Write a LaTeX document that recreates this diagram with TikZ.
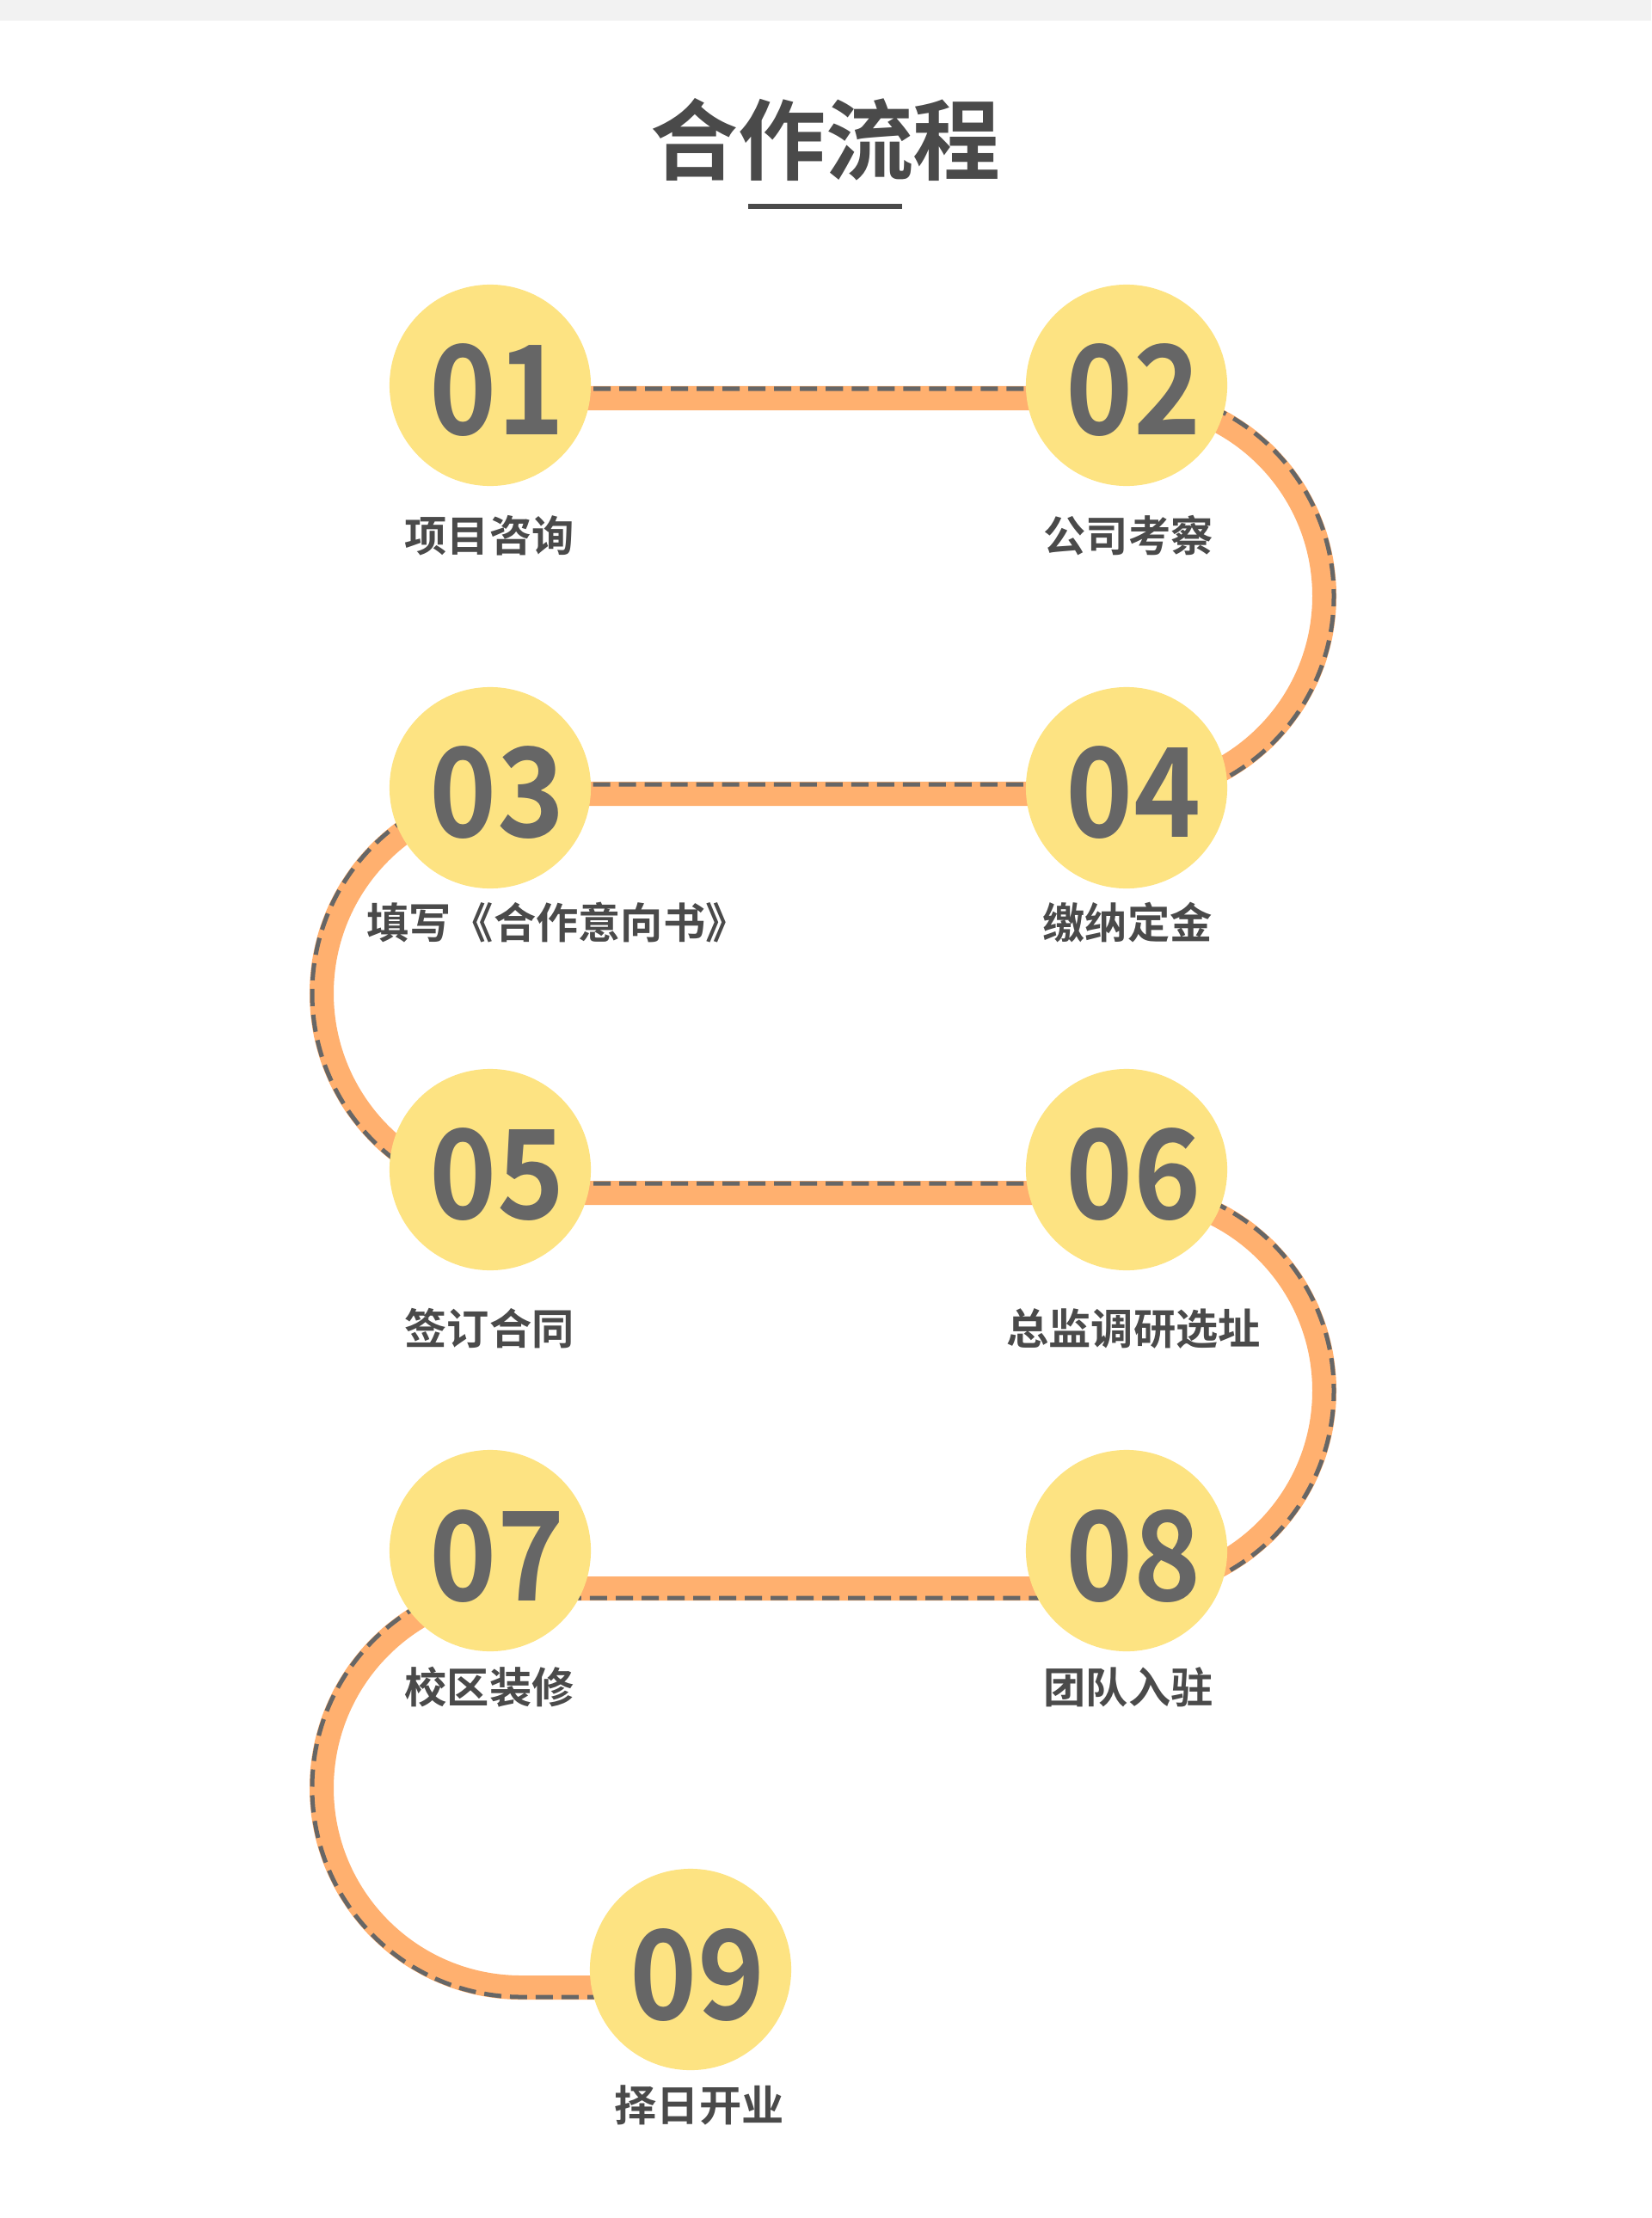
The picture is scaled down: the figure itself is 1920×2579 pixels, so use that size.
\documentclass[tikz,border=0pt]{standalone}
\usepackage{fontspec}
\newfontfamily\hei{Noto Sans CJK SC}[BoldFont={Noto Sans CJK SC Bold}]
\newfontfamily\digitfont{Noto Sans CJK SC Bold}[FakeStretch=0.92]
\usetikzlibrary{calc}
\definecolor{roadorange}{HTML}{FFB06F}
\definecolor{stopyellow}{HTML}{FDE382}
\definecolor{dashgray}{HTML}{666666}
\definecolor{inkgray}{HTML}{4A4A4A}
\definecolor{topgray}{HTML}{F2F2F2}

\begin{document}
\begin{tikzpicture}[x=0.01cm,y=-0.01cm,
  road/.style={roadorange,line width=0.28cm},
  seam/.style={dashgray,line width=0.05cm,dash pattern=on 0.2cm off 0.1cm},
  stop/.style={circle,fill=stopyellow,minimum size=2.34cm,inner sep=0pt},
  digits/.style={inner sep=0pt,text=dashgray,font=\digitfont\fontsize{41}{41}\selectfont},
  caption/.style={inner sep=0pt,text=inkgray,font=\hei\bfseries\fontsize{14}{14}\selectfont}]
\useasboundingbox (0,0) rectangle (1920,2579);
\fill[white] (0,0) rectangle (1920,2579);
\fill[topgray] (0,0) rectangle (1920,24);

\node[inner sep=0pt,text=inkgray,font=\hei\bfseries\fontsize{29}{29}\selectfont] (title) at (960,162) {合作流程};
\draw[inkgray,line width=0.06cm] (870,240) -- (1049,240);

\coordinate (p01) at (570,448);
\coordinate (p02) at (1310,448);
\coordinate (p03) at (570,916);
\coordinate (p04) at (1310,916);
\coordinate (p05) at (570,1360);
\coordinate (p06) at (1310,1360);
\coordinate (p07) at (570,1803);
\coordinate (p08) at (1310,1803);
\coordinate (p09) at (803,2290);

\draw[road] ($(p01)+(0,15)$) -- ($(p02)+(0,15)$) arc[start angle=-90,end angle=90,radius=230]
  -- ($(p03)+(36,7)$) arc[start angle=270,end angle=90,radius=232]
  -- ($(p06)+(0,27)$) arc[start angle=-90,end angle=90,radius=230]
  -- ($(p07)+(36,44)$) arc[start angle=270,end angle=90,radius=232]
  -- ($(p09)+(0,21)$);

\draw[seam] ($(p01)+(0,4)$) -- ($(p02)+(0,4)$) arc[start angle=-90,end angle=90,radius=241];
\draw[seam] ($(p04)+(0,-4)$) -- ($(p03)+(36,-4)$) arc[start angle=270,end angle=90,radius=243];
\draw[seam] ($(p05)+(0,16)$) -- ($(p06)+(0,16)$) arc[start angle=-90,end angle=90,radius=241]
  -- ($(p07)+(36,55)$);
\draw[seam] ($(p07)+(36,33)$) arc[start angle=270,end angle=90,radius=243] -- ($(p09)+(0,32)$);

\node[stop] (n01) at (p01) {};
\node[stop] (n02) at (p02) {};
\node[stop] (n03) at (p03) {};
\node[stop] (n04) at (p04) {};
\node[stop] (n05) at (p05) {};
\node[stop] (n06) at (p06) {};
\node[stop] (n07) at (p07) {};
\node[stop] (n08) at (p08) {};
\node[stop] (n09) at (p09) {};

\node[digits] (d01) at ($(n01)+(8,6)$) {01};
\node[digits] (d02) at ($(n02)+(8,6)$) {02};
\node[digits] (d03) at ($(n03)+(8,6)$) {03};
\node[digits] (d04) at ($(n04)+(8,6)$) {04};
\node[digits] (d05) at ($(n05)+(8,6)$) {05};
\node[digits] (d06) at ($(n06)+(8,6)$) {06};
\node[digits] (d07) at ($(n07)+(8,6)$) {07};
\node[digits] (d08) at ($(n08)+(8,6)$) {08};
\node[digits] (d09) at ($(n09)+(8,6)$) {09};

\node[caption] (l01) at (569,623) {项目咨询};
\node[caption] (l02) at (1312,623) {公司考察};
\node[caption] (l03) at (648,1073) {填写《合作意向书》};
\node[caption] (l04) at (1311,1073) {缴纳定金};
\node[caption] (l05) at (569,1545) {签订合同};
\node[caption] (l06) at (1318,1545) {总监调研选址};
\node[caption] (l07) at (569,1962) {校区装修};
\node[caption] (l08) at (1312,1962) {团队入驻};
\node[caption] (l09) at (813,2448) {择日开业};
\end{tikzpicture}
\end{document}
